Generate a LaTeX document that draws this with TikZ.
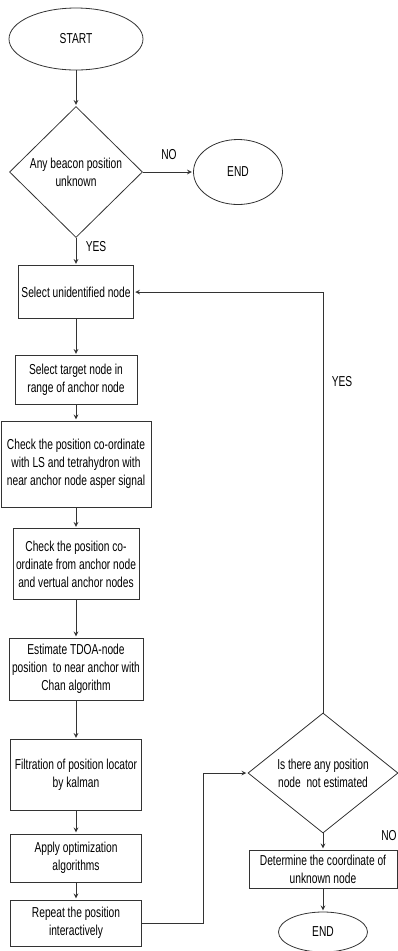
\documentclass[tikz,border=0pt]{standalone}
\usepackage{fontspec}
\setmainfont{Liberation Sans}[FakeStretch=0.71]
\usetikzlibrary{shapes.geometric}
\begin{document}
\begin{tikzpicture}[x=0.75pt,y=-0.75pt,shorten >=1pt,draw=black!80,line width=0.6pt,>=stealth,
	font=\fontsize{10.8}{13.5}\selectfont,
	term/.style={ellipse, draw, inner sep=0pt},
	test/.style={diamond, draw, aspect=1, inner sep=0pt, align=center},
	proc/.style={rectangle, draw, inner sep=0pt, align=center}]
	\useasboundingbox (0,0) rectangle (398,951);
	\node (ST) at ( 76,  39)	[term, minimum width=100.5pt, minimum height=46.5pt]	{START};
	\node (Q1) at ( 76, 172)	[test, minimum width=99.75pt, minimum height=98.25pt]	{Any beacon position\\unknown};
	\node (E1) at (238, 172)	[term, minimum width=66.75pt, minimum height=48.75pt]	{END};
	\node (P1) at ( 76, 292)	[proc, minimum width=86.25pt, minimum height=39.75pt]	{Select unidentified node};
	\node (P2) at ( 76, 380)	[proc, minimum width=91.5pt, minimum height=36.75pt]	{Select target node in\\range of anchor node};
	\node (P3) at ( 76, 464)	[proc, minimum width=112.5pt, minimum height=64.5pt]	{Check the position co-ordinate\\with LS and tetrahydron with\\near anchor node asper signal};
	\node (P4) at ( 76, 564)	[proc, minimum width=94.5pt, minimum height=53.25pt]	{Check the position co-\\ordinate from anchor node\\and vertual anchor nodes};
	\node (P5) at ( 76, 669)	[proc, minimum width=100.5pt, minimum height=46.5pt]	{Estimate TDOA-node\\position\ \ to near anchor with\\Chan algorithm};
	\node (P6) at ( 76, 775)	[proc, minimum width=98.25pt, minimum height=53.25pt]	{Filtration of position locator\\by kalman};
	\node (P7) at ( 76, 858)	[proc, minimum width=98.25pt, minimum height=36pt]	{Apply optimization\\algorithms};
	\node (P8) at ( 76, 923)	[proc, minimum width=98.25pt, minimum height=34.5pt]	{Repeat the position\\interactively};
	\node (Q2) at (323, 773)	[test, minimum width=112.5pt, minimum height=84pt]	{Is there any position\\node\ \ not estimated};
	\node (P9) at (323, 869)	[proc, minimum width=111pt, minimum height=28.5pt]	{Determine the coordinate of\\unknown node};
	\node (E2) at (323, 932)	[term, minimum width=66.75pt, minimum height=30pt]	{END};
	\node (NO1) at (169, 155)	{NO};
	\node (YES1) at ( 96, 247)	{YES};
	\node (YES2) at (342, 382)	{YES};
	\node (NO2) at (397, 836)	[anchor=east, inner xsep=0pt]	{NO};
	\coordinate (C1) at (203, 773);
	\draw[->] (ST) -- (Q1);
	\draw[->] (Q1) -- (E1);
	\draw[->] (Q1) -- (P1);
	\draw[->] (P1) -- (P2);
	\draw[->] (P2) -- (P3);
	\draw[->] (P3) -- (P4);
	\draw[->] (P4) -- (P5);
	\draw[->] (P5) -- (P6);
	\draw[->] (P6) -- (P7);
	\draw[->] (P7) -- (P8);
	\draw[->] (P8.east) -| (C1) -- (Q2.west);
	\draw[->] (Q2.north) |- (P1.east);
	\draw[->] (Q2) -- (P9);
	\draw[->] (P9) -- (E2);
\end{tikzpicture}
\end{document}
